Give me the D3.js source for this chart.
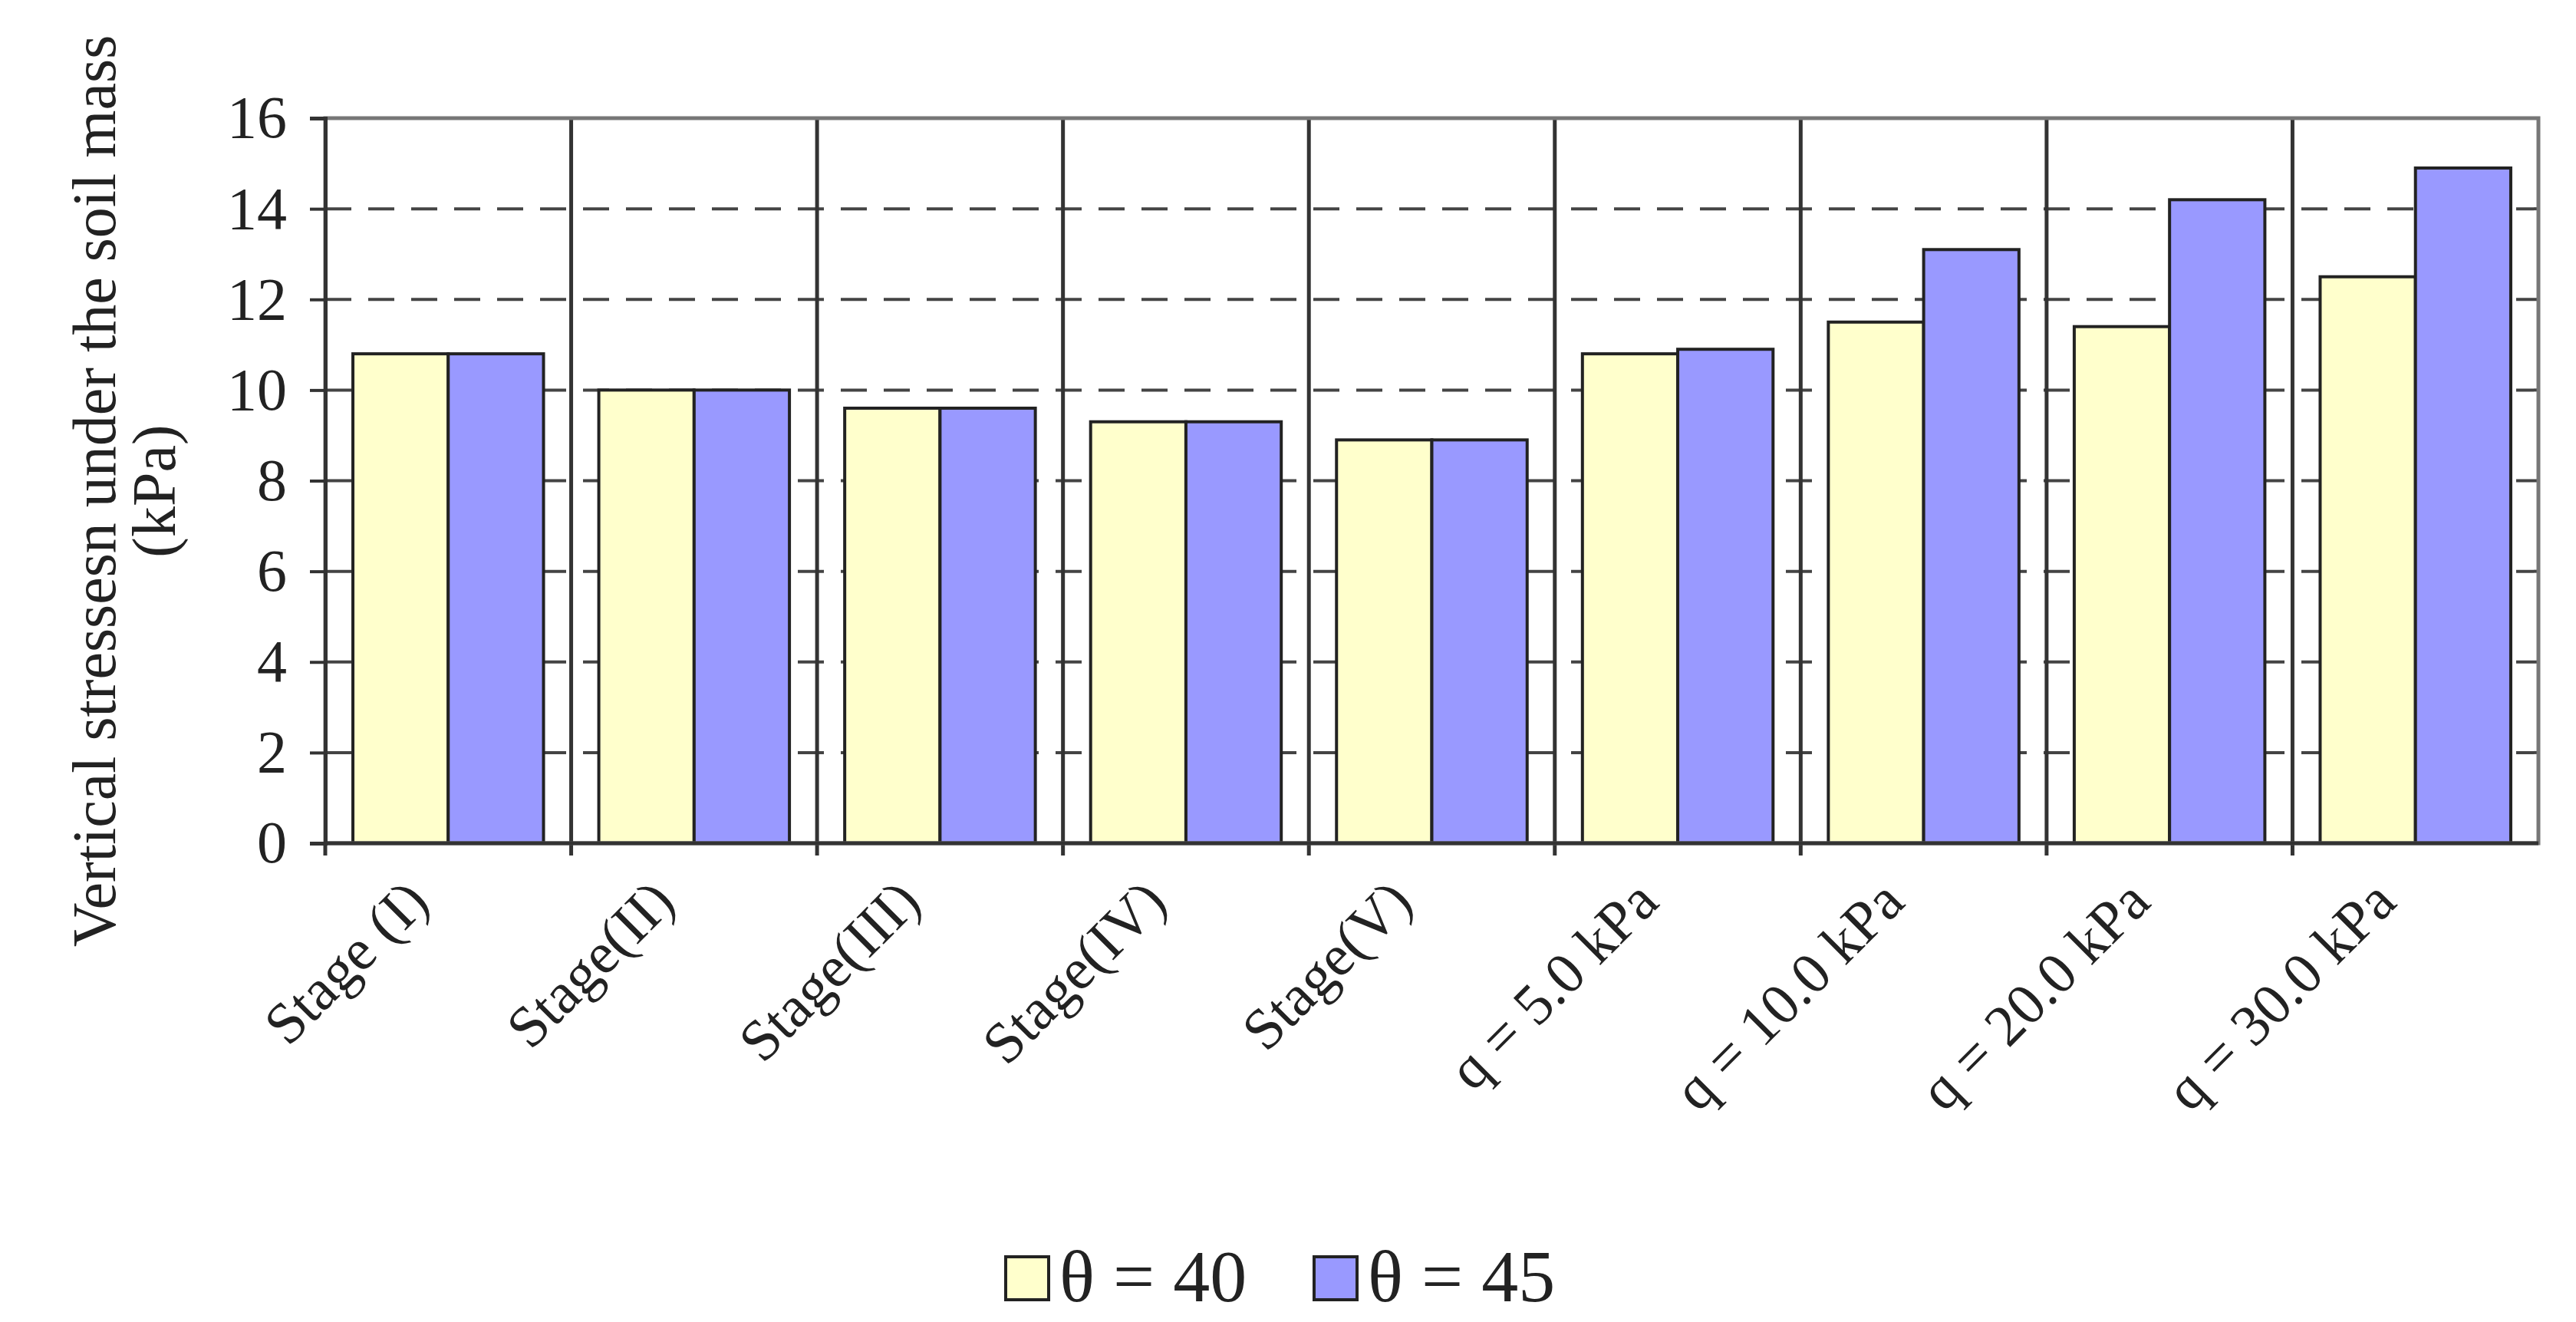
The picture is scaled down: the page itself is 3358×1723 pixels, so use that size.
<!DOCTYPE html>
<html><head><meta charset="utf-8">
<script src="https://cdn.jsdelivr.net/npm/d3@7"></script>
<style>body{margin:0;background:#fff}</style>
</head><body><svg id="c" width="3358" height="1723"></svg>
<script>
var categories = ['Stage (I)', 'Stage(II)', 'Stage(III)', 'Stage(IV)', 'Stage(V)', 'q = 5.0 kPa', 'q = 10.0 kPa', 'q = 20.0 kPa', 'q = 30.0 kPa'];
var theta40 = [10.8, 10.0, 9.6, 9.3, 8.9, 10.8, 11.5, 11.4, 12.5];
var theta45 = [10.8, 10.0, 9.6, 9.3, 8.9, 10.9, 13.1, 14.2, 14.9];
var seriesNames = ['\u03b8 = 40', '\u03b8 = 45'];
var colors = ['#FFFFCC', '#9999FF'];
var yTicks = [0, 2, 4, 6, 8, 10, 12, 14, 16];

var svg = d3.select('#c');
var pLeft = 424, pRight = 3309, pTop = 154, pBottom = 1099;
var x = d3.scaleBand().domain(categories).range([pLeft, pRight]).paddingInner(0).paddingOuter(0);
var y = d3.scaleLinear().domain([0, 16]).range([pBottom, pTop]);
var inner = d3.scaleBand().domain([0, 1]).range([0, x.bandwidth()]).paddingOuter(0.29).paddingInner(0);
var font = '"Liberation Serif", "Times New Roman", serif';

// dashed grid
svg.append('g').selectAll('line').data(yTicks.filter(function(d){return d > 0 && d < 16;})).enter()
  .append('line').attr('x1', pLeft).attr('x2', pRight)
  .attr('y1', function(d){return y(d);}).attr('y2', function(d){return y(d);})
  .attr('stroke', '#444').attr('stroke-width', 4).attr('stroke-dasharray', '34,22');

// category separators
svg.append('g').selectAll('line').data(categories.slice(1)).enter()
  .append('line').attr('x1', function(d){return x(d);}).attr('x2', function(d){return x(d);})
  .attr('y1', pTop).attr('y2', pBottom + 16)
  .attr('stroke', '#333').attr('stroke-width', 5);

// bars
var series = [theta40, theta45];
series.forEach(function(vals, s) {
  svg.append('g').selectAll('rect').data(vals).enter().append('rect')
    .attr('x', function(d, i){return x(categories[i]) + inner(s);})
    .attr('width', inner.bandwidth())
    .attr('y', function(d){return y(d);})
    .attr('height', function(d){return pBottom - y(d);})
    .attr('fill', colors[s]).attr('stroke', '#222').attr('stroke-width', 4);
});

// frame
svg.append('rect').attr('x', pLeft).attr('y', pTop).attr('width', pRight - pLeft).attr('height', pBottom - pTop)
  .attr('fill', 'none').attr('stroke', '#777').attr('stroke-width', 5);

// y axis
var ya = svg.append('g').attr('transform', 'translate(' + pLeft + ',0)')
  .call(d3.axisLeft(y).tickValues(yTicks).tickSize(20).tickPadding(30));
ya.select('.domain').attr('stroke', '#333').attr('stroke-width', 5);
ya.selectAll('.tick line').attr('stroke', '#333').attr('stroke-width', 4);
ya.selectAll('.tick text').attr('font-family', font).attr('font-size', 78).attr('fill', '#222');

// x axis base
svg.append('line').attr('x1', pLeft).attr('x2', pRight).attr('y1', pBottom).attr('y2', pBottom)
  .attr('stroke', '#333').attr('stroke-width', 5);
svg.append('line').attr('x1', pLeft).attr('x2', pLeft).attr('y1', pBottom).attr('y2', pBottom + 16)
  .attr('stroke', '#333').attr('stroke-width', 5);

// x labels
svg.append('g').selectAll('text').data(categories).enter().append('text')
  .attr('transform', function(d){return 'translate(' + (x(d) + x.bandwidth() / 2 - 22) + ',' + (pBottom + 80) + ') rotate(-45)';})
  .attr('text-anchor', 'end').attr('font-family', font).attr('font-size', 76).attr('fill', '#222')
  .text(function(d){return d;});

// y title
var yt = svg.append('text').attr('transform', 'translate(150,640) rotate(-90)')
  .attr('text-anchor', 'middle').attr('font-family', font).attr('font-size', 80).attr('fill', '#222');
yt.append('tspan').attr('x', 0).attr('dy', 0).text('Vertical stressesn under the soil mass');
yt.append('tspan').attr('x', 0).attr('dy', 78).text('(kPa)');

// legend
var lx = [1311, 1713];
seriesNames.forEach(function(n, i) {
  svg.append('rect').attr('x', lx[i]).attr('y', 1638).attr('width', 56).attr('height', 56)
    .attr('fill', colors[i]).attr('stroke', '#222').attr('stroke-width', 4);
  svg.append('text').attr('x', lx[i] + 70).attr('y', 1696).attr('font-family', font)
    .attr('font-size', 96).attr('fill', '#222').text(n);
});
</script></body></html>
